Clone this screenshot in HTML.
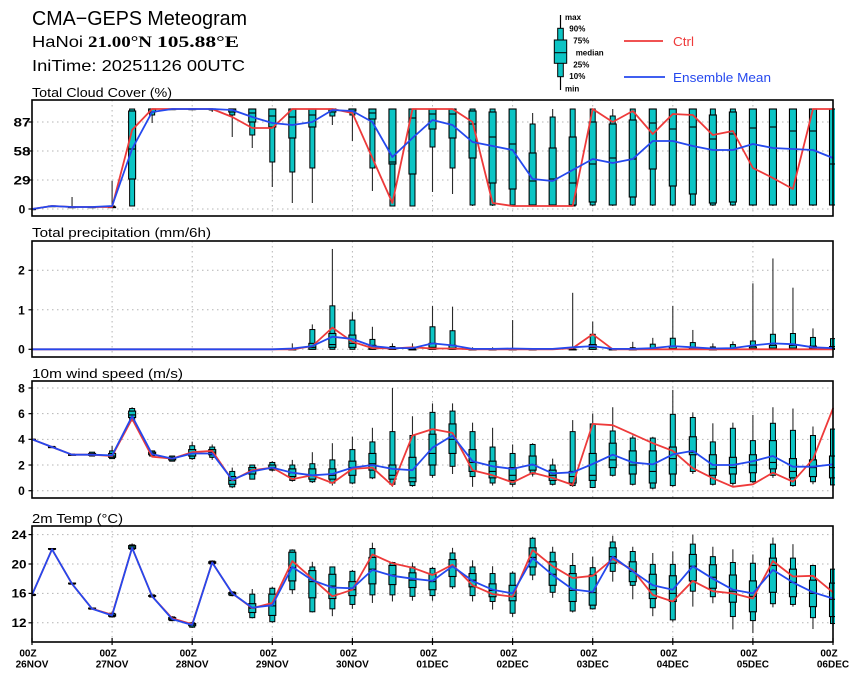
<!DOCTYPE html>
<html><head><meta charset="utf-8">
<style>
html,body{margin:0;padding:0;background:#fff;}
svg{display:block;}
text{font-family:"Liberation Sans",sans-serif;fill:#000;}
.b{font-weight:bold;}
</style></head>
<body>
<svg id="s" width="860" height="680" viewBox="0 0 860 680" xmlns="http://www.w3.org/2000/svg">
<rect width="860" height="680" fill="#fff"/>
<defs>
<clipPath id="c0"><rect x="32" y="100" width="803" height="116"/></clipPath>
<clipPath id="c1"><rect x="32" y="241" width="803" height="116"/></clipPath>
<clipPath id="c2"><rect x="32" y="381" width="803" height="117"/></clipPath>
<clipPath id="c3"><rect x="32" y="526" width="803" height="116"/></clipPath>
</defs>
<g id="grid"></g>
<g id="data"></g>

<!-- frames -->
<g fill="none" stroke="#000" stroke-width="1.6">
<rect x="32" y="100" width="801" height="116"/>
<rect x="32" y="241" width="801" height="116"/>
<rect x="32" y="381" width="801" height="117"/>
<rect x="32" y="526" width="801" height="116"/>
</g>
<g id="ticks" stroke="#000" stroke-width="1.2"></g>

<!-- header -->
<text x="32" y="25" font-size="20" textLength="215" lengthAdjust="spacingAndGlyphs">CMA−GEPS Meteogram</text>
<text x="32" y="47" font-size="16" textLength="51" lengthAdjust="spacingAndGlyphs">HaNoi</text>
<text x="88" y="47" font-size="16" font-weight="bold" style="font-family:'Liberation Serif',serif" textLength="64" lengthAdjust="spacingAndGlyphs">21.00°N</text>
<text x="157" y="47" font-size="16" font-weight="bold" style="font-family:'Liberation Serif',serif" textLength="82" lengthAdjust="spacingAndGlyphs">105.88°E</text>
<text x="32" y="71" font-size="16" textLength="213" lengthAdjust="spacingAndGlyphs">IniTime: 20251126 00UTC</text>

<!-- legend box -->
<line x1="560.5" y1="15" x2="560.5" y2="90" stroke="#000" stroke-width="1.2"/>
<rect x="557.7" y="28.3" width="5.6" height="48.4" fill="#0cc4c4" stroke="#000" stroke-width="1"/>
<rect x="554.3" y="40" width="12.4" height="23.3" fill="#0cc4c4" stroke="#000" stroke-width="1"/>
<line x1="554.3" y1="52.7" x2="566.7" y2="52.7" stroke="#000" stroke-width="1"/>
<g font-size="8" font-weight="bold">
<text x="565" y="20">max</text>
<text x="569.3" y="31.7">90%</text>
<text x="573.3" y="43.3">75%</text>
<text x="575.7" y="55.7">median</text>
<text x="573.3" y="67.3">25%</text>
<text x="569.3" y="79">10%</text>
<text x="565" y="91.5">min</text>
</g>
<line x1="624" y1="41" x2="663" y2="41" stroke="#ee3a3a" stroke-width="1.8"/>
<text x="673" y="46" font-size="13" style="fill:#ee3a3a" textLength="21" lengthAdjust="spacingAndGlyphs">Ctrl</text>
<line x1="624" y1="77" x2="665" y2="77" stroke="#2548ee" stroke-width="1.8"/>
<text x="673" y="82" font-size="13" style="fill:#2548ee" textLength="98" lengthAdjust="spacingAndGlyphs">Ensemble Mean</text>

<!-- panel titles -->
<text x="32" y="97" font-size="13" textLength="140" lengthAdjust="spacingAndGlyphs">Total Cloud Cover (%)</text>
<text x="32" y="237" font-size="13" textLength="179" lengthAdjust="spacingAndGlyphs">Total precipitation (mm/6h)</text>
<text x="32" y="378" font-size="13" textLength="151" lengthAdjust="spacingAndGlyphs">10m wind speed (m/s)</text>
<text x="32" y="523" font-size="13" textLength="91" lengthAdjust="spacingAndGlyphs">2m Temp (°C)</text>

<!-- y tick labels -->
<g font-size="12" font-weight="bold" text-anchor="middle">
<text x="22" y="126.3" textLength="17" lengthAdjust="spacingAndGlyphs">87</text>
<text x="22" y="155.3" textLength="17" lengthAdjust="spacingAndGlyphs">58</text>
<text x="22" y="184.3" textLength="17" lengthAdjust="spacingAndGlyphs">29</text>
<text x="22" y="213.3">0</text>
<text x="21.5" y="274.6">2</text>
<text x="21.5" y="314.3">1</text>
<text x="21.5" y="353.6">0</text>
<text x="21.5" y="392.3">8</text>
<text x="21.5" y="418">6</text>
<text x="21.5" y="443.6">4</text>
<text x="21.5" y="469.3">2</text>
<text x="21.5" y="495">0</text>
<text x="19" y="538.9" textLength="15" lengthAdjust="spacingAndGlyphs">24</text>
<text x="19" y="568.3" textLength="15" lengthAdjust="spacingAndGlyphs">20</text>
<text x="19" y="597.7" textLength="15" lengthAdjust="spacingAndGlyphs">16</text>
<text x="19" y="627.1" textLength="15" lengthAdjust="spacingAndGlyphs">12</text>
</g>

<!-- x labels -->
<g font-size="10" font-weight="bold" text-anchor="middle">
<text x="28" y="656.7">00Z</text><text x="32" y="667.7">26NOV</text>
<text x="108.1" y="656.7">00Z</text><text x="112.1" y="667.7">27NOV</text>
<text x="188.2" y="656.7">00Z</text><text x="192.2" y="667.7">28NOV</text>
<text x="268.3" y="656.7">00Z</text><text x="272.3" y="667.7">29NOV</text>
<text x="348.4" y="656.7">00Z</text><text x="352.4" y="667.7">30NOV</text>
<text x="428.5" y="656.7">00Z</text><text x="432.5" y="667.7">01DEC</text>
<text x="508.6" y="656.7">00Z</text><text x="512.6" y="667.7">02DEC</text>
<text x="588.7" y="656.7">00Z</text><text x="592.7" y="667.7">03DEC</text>
<text x="668.8" y="656.7">00Z</text><text x="672.8" y="667.7">04DEC</text>
<text x="748.9" y="656.7">00Z</text><text x="752.9" y="667.7">05DEC</text>
<text x="829" y="656.7">00Z</text><text x="833" y="667.7">06DEC</text>
</g>
</svg>
<script>
(function(){
var NS="http://www.w3.org/2000/svg";
function el(tag,a,p){var e=document.createElementNS(NS,tag);for(var k in a)e.setAttribute(k,a[k]);p.appendChild(e);return e;}
function X(i){return 32+20.025*i;}
var TEAL="#0cc4c4";
var P=[
{t:100,b:216,f:function(v){return 209-v;},ticks:[0,29,58,87],
D:[[0,0,0,0,0,0,0],[3,3,3,3,3,3,3],[2,2,2,2,2,2,12],[2,2,2,2,2,2,2],[2,2,2,2,2,3,28],
[3,3,30,60,98,100,100],[86,94,97,100,100,100,100],[100,100,100,100,100,100,100],[100,100,100,100,100,100,100],[97,99,100,100,100,100,100],
[72,94,97,100,100,100,100],[61,74,87,96,100,100,100],[22,47,82,93,100,100,100],[6,37,71,92,100,100,100],[6,41,82,94,100,100,100],
[84,93,97,100,100,100,100],[68,94,98,100,100,100,100],[18,41,90,96,100,100,100],[3,3,45,47,100,100,100],[3,3,35,91,100,100,100],
[17,62,80,95,100,100,100],[15,41,71,95,100,100,100],[3,4,51,85,98,100,100],[3,4,26,72,97,100,100],[3,4,20,65,100,100,100],
[3,3,4,28,56,85,96],[3,3,4,30,61,92,100],[3,3,4,26,72,100,100],[3,4,7,45,87,100,100],[3,4,4,51,85,93,100],
[3,4,12,50,89,100,100],[3,4,40,86,100,100,100],[3,4,23,80,100,100,100],[3,4,15,82,100,100,100],[3,4,6,70,94,100,100],
[3,4,7,75,97,100,100],[3,4,4,81,100,100,100],[3,4,4,82,100,100,100],[3,4,4,78,100,100,100],[3,4,4,78,100,100,100],[3,4,4,45,100,100,100]],
C:[0,3,2,2,2,79,100,100,100,100,92,81,81,100,100,100,96,51,6,100,100,100,87,6,3,3,3,3,100,87,98,75,95,94,74,78,41,31,20,100,100],
M:[0,3,2,2,3,60,97,100,100,100,99,92,86,84,87,99,98,87,52,71,89,84,67,63,59,30,28,39,50,46,50,68,68,63,59,59,65,61,60,59,51]},
{t:241,b:357,f:function(v){return 349.3-39.5*v;},ticks:[0,1,2],skip:true,
D:[null,null,null,null,null,null,null,null,null,null,null,null,null,
[0,0,0,0,0,0.02,0.15],[0,0,0,0.05,0.15,0.5,0.63],[0,0,0.05,0.12,0.4,1.1,2.54],[0,0,0.05,0.15,0.36,0.74,0.94],[0,0,0,0.03,0.1,0.25,0.57],
[0,0,0,0,0.02,0.07,0.15],[0,0,0,0,0,0.03,0.15],[0,0,0,0.05,0.15,0.57,1.1],[0,0,0,0.03,0.1,0.47,1.08],[0,0,0,0,0,0,0.05],
[0,0,0,0,0,0,0.05],[0,0,0,0,0,0.01,0.74],[0,0,0,0,0,0,0.03],null,[0,0,0,0,0,0.01,1.43],
[0,0,0,0.05,0.12,0.38,0.7],[0,0,0,0,0,0.01,0.02],[0,0,0,0,0,0.04,0.19],[0,0,0,0,0.03,0.13,0.29],[0,0,0,0.02,0.08,0.28,1.1],
[0,0,0,0,0.04,0.17,0.49],[0,0,0,0,0,0.06,0.15],[0,0,0,0,0.02,0.12,0.2],[0,0,0,0.02,0.06,0.21,1.67],[0,0,0,0.03,0.1,0.38,2.3],
[0,0,0,0.03,0.1,0.4,1.56],[0,0,0,0.02,0.08,0.3,0.53],[0,0,0,0.02,0.07,0.27,0.3]],
C:[0,0,0,0,0,0,0,0,0,0,0,0,0,0,0.08,0.55,0.19,0.03,0.02,0.05,0.02,0.02,0,0,0,0,0,0.03,0.38,0,0,0,0,0,0,0,0,0,0,0,0],
M:[0,0,0,0,0,0,0,0,0,0,0,0,0,0.02,0.08,0.32,0.26,0.08,0.03,0.03,0.15,0.1,0.01,0.01,0.02,0.01,0.01,0.05,0.08,0.01,0.01,0.03,0.08,0.05,0.02,0.03,0.1,0.15,0.13,0.05,0.03]},
{t:381,b:498,f:function(v){return 490.7-12.84*v;},ticks:[0,2,4,6,8],
D:[[4,4,4,4,4,4,4],[3.4,3.4,3.4,3.4,3.4,3.45,3.45],[2.8,2.8,2.8,2.8,2.8,2.85,2.85],[2.7,2.7,2.75,2.8,2.9,3.0,3.0],[2.5,2.5,2.6,2.7,2.9,3.1,3.5],
[5.4,5.5,5.7,5.9,6.2,6.4,6.5],[2.7,2.7,2.8,2.9,3.0,3.1,3.1],[2.3,2.3,2.4,2.5,2.6,2.7,2.7],[2.4,2.5,2.7,2.9,3.2,3.5,3.8],[2.4,2.6,2.8,3.0,3.2,3.4,3.6],
[0.2,0.3,0.5,0.8,1.1,1.5,1.8],[0.9,0.9,1.3,1.6,1.8,2.0,2.0],[1.5,1.6,1.7,1.8,2.0,2.2,2.3],[0.7,0.8,1.1,1.4,1.7,2.0,2.4],[0.6,0.7,0.9,1.2,1.7,2.1,3.0],
[0.4,0.6,0.9,1.2,1.7,2.4,3.7],[0.5,0.6,1.2,1.8,2.3,3.2,4.2],[0.9,1.0,1.6,2.1,2.9,3.8,4.9],[0.3,0.5,0.9,1.2,2.0,4.6,8.0],[0.3,0.4,0.7,1.0,2.6,4.3,5.8],
[1.0,1.2,2.0,2.9,4.4,6.1,6.8],[1.3,1.9,2.9,4.0,5.2,6.2,6.8],[0.3,1.1,1.5,2.2,3.2,4.6,5.3],[0.4,0.6,1.0,1.5,2.3,3.4,4.9],[0.3,0.5,0.8,1.2,1.8,2.9,3.6],
[1.1,1.3,1.6,2.0,2.7,3.6,3.7],[0.4,0.5,0.8,1.2,1.6,2.0,2.5],[0.3,0.4,0.6,1.1,1.5,4.6,5.5],[0.2,0.25,0.8,1.2,2.9,5.2,6.0],[1.1,1.2,1.8,2.4,3.7,4.65,6.5],
[0.4,0.5,1.3,2.0,3.1,4.1,4.3],[0.1,0.2,0.6,1.5,3.1,4.1,4.2],[0.3,0.4,1.3,2.5,3.4,5.95,7.85],[1.3,1.5,2.8,3.0,4.2,5.7,6.1],[0.4,0.5,1.2,1.7,2.8,3.8,5.25],
[0.4,0.57,1.3,1.8,2.6,4.86,5.3],[0.6,0.7,1.4,2.0,2.8,3.9,5.9],[1.0,1.2,1.7,2.2,3.9,5.25,6.5],[0.3,0.4,1.0,1.5,2.5,4.7,6.4],[0.5,0.7,1.1,1.8,2.4,4.3,5.0],[0.3,0.45,1.0,1.8,2.7,4.8,5.0]],
C:[4,3.4,2.8,2.8,2.7,5.6,2.65,2.5,3.0,3.1,0.8,1.6,1.8,0.9,1.2,0.6,1.7,1.8,0.4,4.3,4.8,4.5,1.6,1.2,0.65,1.4,1.0,0.45,5.2,5.1,4.4,3.7,3.1,1.75,0.97,0.3,0.5,1.4,0.7,2.45,6.4],
M:[4,3.4,2.8,2.8,2.75,5.8,2.85,2.5,2.9,2.9,0.85,1.5,1.8,1.4,1.2,1.3,1.8,2.0,1.7,1.6,3.35,4.3,2.3,1.9,1.7,2.05,1.35,1.43,2.08,2.8,2.2,2.05,2.83,3.1,2.0,2.0,2.3,2.7,1.87,1.87,2.05]},
{t:526,b:642,f:function(v){return 564-7.35*(v-20);},ticks:[12,16,20,24],
D:[[15.7,15.7,15.75,15.8,15.85,15.9,15.9],[21.9,21.95,22.0,22.05,22.1,22.1,22.1],[17.2,17.25,17.3,17.35,17.4,17.4,17.4],[13.8,13.85,13.9,13.95,14.0,14.0,14.0],[12.7,12.8,12.9,13.0,13.2,13.3,13.5],
[21.9,22.0,22.1,22.3,22.5,22.6,22.8],[15.5,15.5,15.6,15.65,15.7,15.8,15.8],[12.2,12.3,12.4,12.55,12.7,12.8,12.9],[11.3,11.4,11.6,11.8,11.9,12.0,12.1],[19.9,20.0,20.1,20.2,20.3,20.4,20.5],
[15.6,15.7,15.8,16.0,16.1,16.2,16.3],[12.6,12.7,13.4,14.0,14.6,15.9,16.6],[12.0,12.15,13.0,14.3,15.9,16.7,16.9],[15.9,16.5,17.7,19.5,21.6,21.9,22.0],[13.4,13.5,15.4,17.6,19.1,19.6,20.3],
[12.9,13.9,15.3,17.0,18.6,19.6,19.6],[13.9,14.5,15.7,16.5,17.6,19.0,19.2],[14.7,15.8,17.3,19.3,20.9,22.1,22.9],[14.9,15.8,17.2,18.5,19.8,20.2,20.3],[15.0,15.6,16.8,17.8,18.8,19.6,20.2],
[15.0,15.7,16.5,17.6,18.6,19.4,19.6],[16.6,16.9,18.3,19.6,20.6,21.5,22.2],[14.9,15.7,16.9,17.8,18.7,19.6,20.5],[13.8,14.9,15.55,16.4,17.3,18.7,19.7],[12.8,13.3,15.0,15.6,17.1,18.75,19.0],
[17.8,18.5,19.6,20.9,22.2,23.5,23.7],[15.4,16.15,17.1,18.6,20.3,21.6,22.35],[13.4,13.6,14.9,16.4,18.7,19.8,21.5],[13.8,13.9,14.4,16.1,18.5,19.5,21.0],[17.6,19.0,20.1,21.0,22.2,23.0,23.85],
[15.2,17.1,17.6,19.0,20.3,21.7,22.35],[12.9,14.05,15.3,16.5,18.6,19.95,21.5],[12.15,12.4,14.9,16.0,18.4,19.95,21.7],[14.2,16.3,17.7,19.7,21.3,22.7,24.0],[14.65,15.55,16.7,18.2,19.9,21.0,22.35],
[11.1,12.85,14.8,16.3,18.5,20.2,22.0],[10.6,12.3,13.5,15.6,17.7,20.1,21.3],[14.1,14.6,16.15,19.8,20.8,22.7,23.6],[14.2,14.5,15.55,17.5,19.3,20.8,22.7],[11.15,12.7,14.2,16.0,17.8,19.8,19.9],[11.5,11.9,12.85,15.2,17.4,19.3,19.5]],
C:[15.8,22.0,17.3,13.9,13.1,22.2,15.6,12.6,11.8,20.2,16.0,14.0,14.7,20.4,18.0,15.6,16.5,21.3,20.1,19.5,18.5,19.9,17.1,15.9,15.55,21.9,19.7,18.1,18.4,20.7,19.2,15.8,14.9,17.7,16.3,16.0,15.3,20.4,18.3,18.4,16.15],
M:[15.8,22.0,17.3,13.9,13.0,22.2,15.6,12.5,11.7,20.2,16.0,14.05,14.4,19.6,17.8,16.8,16.7,19.2,18.4,18.0,17.7,19.7,17.7,16.5,16.0,20.8,18.5,16.55,16.2,21.0,19.0,17.1,16.5,19.7,18.0,16.5,16.0,19.2,17.5,16.15,15.3]}
];
var grid=document.getElementById("grid"),data=document.getElementById("data"),ticks=document.getElementById("ticks");
P.forEach(function(p,pi){
  for(var k=1;k<=9;k++){var x=X(4*k);el("line",{x1:x,y1:p.t,x2:x,y2:p.b,stroke:"#b4b4b4","stroke-width":1,"stroke-dasharray":"1.5 3.5"},grid);}
  p.ticks.forEach(function(v){var y=p.f(v);
    el("line",{x1:32,y1:y,x2:833,y2:y,stroke:"#b4b4b4","stroke-width":1,"stroke-dasharray":"1.5 3.5"},grid);
    el("line",{x1:28.5,y1:y,x2:32,y2:y},ticks);});
  var g=el("g",{"clip-path":"url(#c"+pi+")"},data);
  p.D.forEach(function(d,i){
    if(!d)return; if(p.skip&&d[6]<=0)return;
    var x=X(i),f=p.f;
    el("line",{x1:x,y1:f(d[6]),x2:x,y2:f(d[0]),stroke:"#2a2a2a","stroke-width":1.1},g);
    var y1=f(d[5]),y2=f(d[1]);
    el("rect",{x:x-2.5,y:y1,width:5,height:Math.max(y2-y1,0.6),fill:TEAL,stroke:"#000","stroke-width":1},g);
    var t1=f(d[4]),t2=f(d[2]);
    el("rect",{x:x-3.5,y:t1,width:7,height:Math.max(t2-t1,0.6),fill:TEAL,stroke:"#000","stroke-width":1.1},g);
    var ym=f(d[3]);
    el("line",{x1:x-3.5,y1:ym,x2:x+3.5,y2:ym,stroke:"#000","stroke-width":1.1},g);
  });
  function poly(arr,col){var pts=arr.map(function(v,i){return X(i).toFixed(1)+","+p.f(v).toFixed(1);}).join(" ");
    el("polyline",{points:pts,fill:"none",stroke:col,"stroke-width":1.8,"stroke-linejoin":"round","stroke-linecap":"round"},g);}
  poly(p.C,"#ee3a3a");
  poly(p.M,"#2548ee");
});
for(var k=0;k<=10;k++){var x=X(4*k);el("line",{x1:x,y1:638,x2:x,y2:645},ticks);}
})();
</script>
</body></html>
